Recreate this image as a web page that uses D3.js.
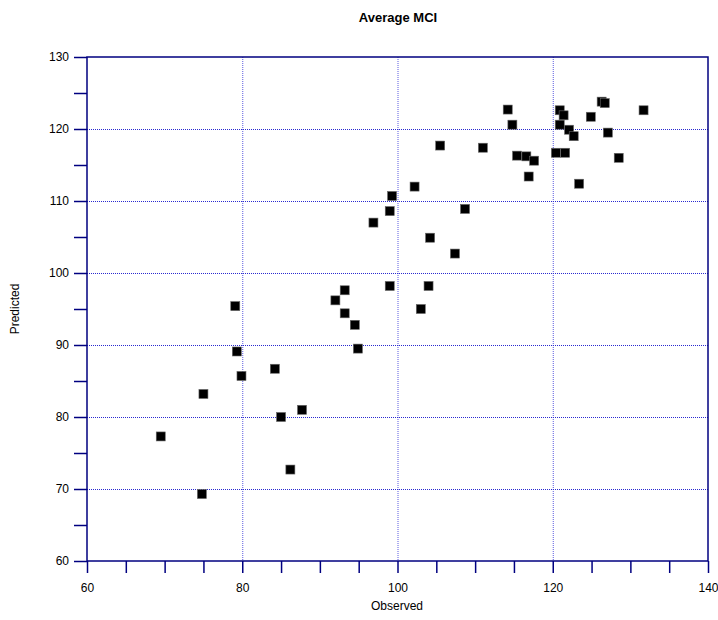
<!DOCTYPE html>
<html>
<head>
<meta charset="utf-8">
<script src="https://cdn.jsdelivr.net/npm/d3@7"></script>
<style>
  html, body { margin: 0; padding: 0; background: #fff; }
  svg { display: block; font-family: "Liberation Sans", Arial, sans-serif; }
</style>
</head>
<body>
<svg id="chart" width="718" height="620"></svg>
<script>
// Data
const observed = [69.5, 74.8, 85.0, 87.7, 86.2,
  75.0, 79.1, 79.3, 79.9, 84.2, 93.2, 92.0, 93.2, 94.5, 94.9,
  102.2, 99.3, 99.0, 96.9, 108.7, 104.2, 107.4, 99.0, 104.0, 103.0,
  105.5, 111.0, 114.2, 114.8, 115.4, 116.6, 117.6, 116.9, 120.4, 121.6,
  120.9, 121.4, 120.9, 122.1, 122.7, 123.4, 124.9, 126.3, 126.7, 127.1, 128.5, 131.7];
const predicted = [77.3, 69.3, 80.0, 81.0, 72.7,
  83.2, 95.4, 89.1, 85.7, 86.7, 97.6, 96.2, 94.4, 92.8, 89.5,
  112.0, 110.7, 108.6, 107.0, 108.9, 104.9, 102.7, 98.2, 98.2, 95.0,
  117.7, 117.4, 122.7, 120.6, 116.3, 116.2, 115.6, 113.4, 116.7, 116.7,
  122.6, 121.9, 120.6, 119.9, 119.0, 112.4, 121.7, 123.8, 123.6, 119.5, 116.0, 122.6];
const xTickLabels = [60, 80, 100, 120, 140];
const yTickLabels = [60, 70, 80, 90, 100, 110, 120, 130];
const xGridValues = [80, 100, 120];
const yGridValues = [70, 80, 90, 100, 110, 120];
const titleText = "Average MCI";
const xLabelText = "Observed";
const yLabelText = "Predicted";

const points = observed.map((o, i) => ({ x: o, y: predicted[i] }));

const svg = d3.select("#chart");
const L = 87, R = 708, T = 57, B = 561;
const x = d3.scaleLinear().domain([60, 140]).range([L, R]);
const y = d3.scaleLinear().domain([60, 130]).range([B, T]);
const navy = "#000080";

// Grid lines
const grid = svg.append("g");
grid.selectAll("line.gx").data(xGridValues).enter().append("line")
  .attr("x1", d => x(d) + 0.5).attr("x2", d => x(d) + 0.5)
  .attr("y1", T).attr("y2", B)
  .attr("stroke", "#5a5ae0").attr("stroke-width", 1).attr("stroke-dasharray", "1,1");
grid.selectAll("line.gy").data(yGridValues).enter().append("line")
  .attr("y1", d => y(d) + 0.5).attr("y2", d => y(d) + 0.5)
  .attr("x1", L).attr("x2", R)
  .attr("stroke", "#2a2ad0").attr("stroke-width", 1).attr("stroke-dasharray", "1,1");

// Axes
const xAxis = d3.axisBottom(x).tickValues(d3.range(60, 141, 5)).tickSize(12)
  .tickFormat(d => xTickLabels.includes(d) ? d : "").tickSizeOuter(0).tickPadding(10);
const gx = svg.append("g").attr("transform", `translate(0,${B})`).call(xAxis);
const yAxis = d3.axisLeft(y).tickValues(d3.range(60, 131, 5)).tickSize(13)
  .tickFormat(d => yTickLabels.includes(d) ? d : "").tickSizeOuter(0).tickPadding(5);
const gy = svg.append("g").attr("transform", `translate(${L},0)`).call(yAxis);
[gx, gy].forEach(g => {
  g.selectAll("path.domain").remove();
  g.selectAll(".tick line").attr("stroke", navy).attr("stroke-width", 1.5);
  g.selectAll(".tick text").attr("fill", "#000").style("font-size", "12px")
    .style("font-family", "'Liberation Sans', Arial, sans-serif");
});

// Frame
svg.append("rect").attr("x", L).attr("y", T).attr("width", R - L).attr("height", B - T)
  .attr("fill", "none").attr("stroke", navy).attr("stroke-width", 1.5);

// Points
const sz = 9;
svg.append("g").selectAll("rect.pt").data(points).enter().append("rect")
  .attr("x", d => x(d.x) - sz / 2).attr("y", d => y(d.y) - sz / 2)
  .attr("width", sz).attr("height", sz)
  .attr("fill", "#000").attr("stroke", "#666").attr("stroke-width", 0.6);

// Title and labels
svg.append("text").attr("x", 398).attr("y", 22).attr("text-anchor", "middle")
  .style("font-size", "13px").style("font-weight", "bold").text(titleText);
svg.append("text").attr("x", 397).attr("y", 610).attr("text-anchor", "middle")
  .style("font-size", "12px").text(xLabelText);
svg.append("text").attr("transform", "translate(19,309) rotate(-90)").attr("text-anchor", "middle")
  .style("font-size", "12px").text(yLabelText);
</script>
</body>
</html>
